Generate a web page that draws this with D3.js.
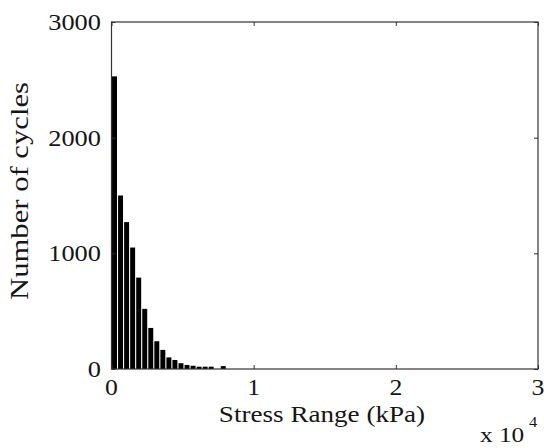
<!DOCTYPE html>
<html>
<head>
<meta charset="utf-8">
<script src="https://cdn.jsdelivr.net/npm/d3@7"></script>
<style>
  html, body { margin: 0; padding: 0; background: #fff; }
  svg { display: block; }
  text { font-family: "Liberation Serif", "Times New Roman", serif; fill: #151515; }
</style>
</head>
<body>
<div id="chart"></div>
<script>
// Histogram bin centres (kPa) and cycle counts
const binCenters = [212, 637, 1062, 1487, 1912, 2337, 2762, 3187, 3612, 4037,
                    4462, 4887, 5312, 5737, 6162, 6587, 7012, 7437, 7862];
const cycleCounts = [2530, 1500, 1270, 1050, 790, 520, 355, 240, 165, 100,
                     78, 50, 35, 28, 20, 20, 20, 0, 25];
const binWidth = 425;
const xTicks = [0, 10000, 20000, 30000];
const xTickLabels = ["0", "1", "2", "3"];
const yTicks = [0, 1000, 2000, 3000];
const yTickLabels = ["0", "1000", "2000", "3000"];
const xTitle = "Stress Range (kPa)";
const yTitle = "Number of cycles";
const xExponentBase = "x 10";
const xExponent = "4";

const W = 544, H = 448;
const m = { left: 111.5, right: 6, top: 22, bottom: 79 };
const svg = d3.select("#chart").append("svg").attr("width", W).attr("height", H);

const x = d3.scaleLinear().domain([0, 30000]).range([m.left, W - m.right]);
const y = d3.scaleLinear().domain([0, 3000]).range([H - m.bottom, m.top]);

function label(g, px, py, txt, size, anchor, stretch, rot) {
  return g.append("text")
    .attr("transform", `translate(${px},${py})` + (rot ? ` rotate(${rot})` : "") + ` scale(${stretch},1)`)
    .attr("text-anchor", anchor)
    .style("font-size", size + "px")
    .text(txt);
}

// bars
svg.append("g").selectAll("rect")
  .data(binCenters.map((c, i) => ({ c, v: cycleCounts[i] })).filter(d => d.v > 0))
  .join("rect")
  .attr("x", d => x(d.c - binWidth * 0.41))
  .attr("width", d => x(binWidth * 0.82) - x(0))
  .attr("y", d => y(d.v))
  .attr("height", d => y(0) - y(d.v))
  .attr("fill", "#000");

// frame
const axisColor = "#333";
svg.append("rect")
  .attr("x", x(0)).attr("y", y(3000))
  .attr("width", x(30000) - x(0)).attr("height", y(0) - y(3000))
  .attr("fill", "none").attr("stroke", axisColor).attr("stroke-width", 1.2);

// ticks (inward) using d3 axes
const tl = 4;
svg.append("g").attr("transform", `translate(0,${y(0)})`)
  .call(d3.axisTop(x).tickValues(xTicks).tickSize(tl).tickFormat(""))
  .call(g => g.select(".domain").remove())
  .call(g => g.selectAll("line").attr("stroke", axisColor));
svg.append("g").attr("transform", `translate(0,${y(3000)})`)
  .call(d3.axisBottom(x).tickValues(xTicks).tickSize(tl).tickFormat(""))
  .call(g => g.select(".domain").remove())
  .call(g => g.selectAll("line").attr("stroke", axisColor));
svg.append("g").attr("transform", `translate(${x(0)},0)`)
  .call(d3.axisRight(y).tickValues(yTicks).tickSize(tl).tickFormat(""))
  .call(g => g.select(".domain").remove())
  .call(g => g.selectAll("line").attr("stroke", axisColor));
svg.append("g").attr("transform", `translate(${x(30000)},0)`)
  .call(d3.axisLeft(y).tickValues(yTicks).tickSize(tl).tickFormat(""))
  .call(g => g.select(".domain").remove())
  .call(g => g.selectAll("line").attr("stroke", axisColor));

// tick labels
const lab = svg.append("g");
yTicks.forEach((v, i) => label(lab, 101, y(v) + 8, yTickLabels[i], 24, "end", 1.1));
xTicks.forEach((v, i) => label(lab, x(v), 395, xTickLabels[i], 23, "middle", 1.12));

// titles
label(lab, 322, 422, xTitle, 24, "middle", 1.13);
label(lab, 28, 191, yTitle, 26, "middle", 1.18, -90);

// exponent
label(lab, 480, 442, xExponentBase, 22, "start", 1.15);
label(lab, 529, 427, xExponent, 15, "start", 1.1);
</script>
</body>
</html>
